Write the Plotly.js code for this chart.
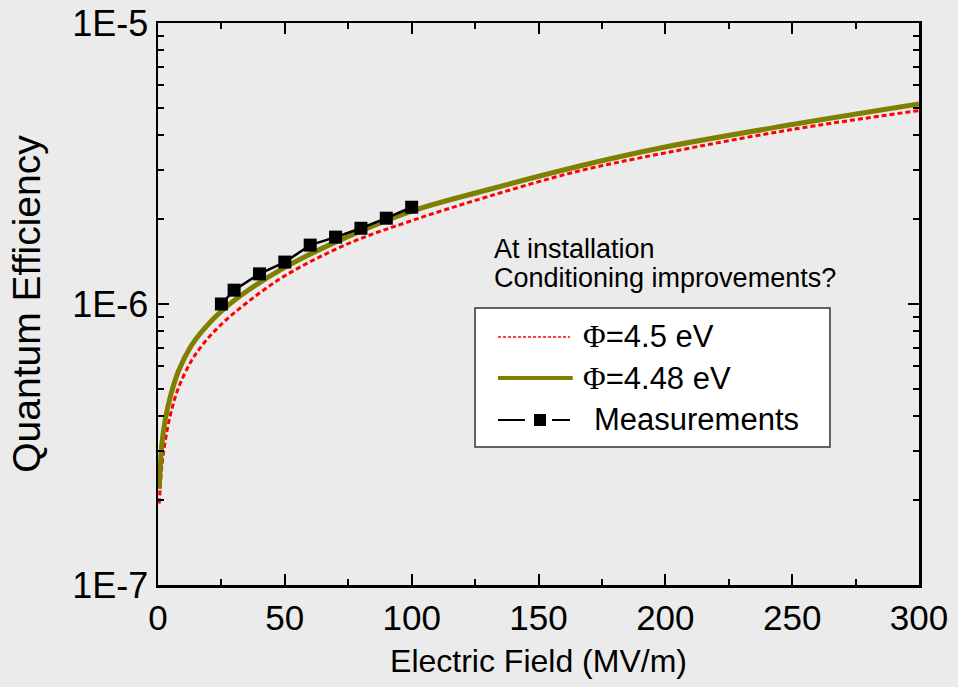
<!DOCTYPE html>
<html>
<head>
<meta charset="utf-8">
<script src="https://cdn.plot.ly/plotly-3.0.1.min.js"></script>
<style>html,body{margin:0;padding:0;background:#ebebeb;}#chart{width:958px;height:687px;}</style>
</head>
<body>
<div id="chart"></div>
<script>
// ---- data ----
const fieldCurve = [0.5, 1.5, 3, 5, 8, 13, 18, 25, 35, 50, 75, 100, 130, 165, 200, 250, 300];
const qePhi45 = [1.95e-7, 2.63e-7, 3.31e-7, 4.07e-7, 5.01e-7, 6.24e-7, 7.24e-7, 8.47e-7, 1.01e-6, 1.26e-6, 1.64e-6, 1.98e-6, 2.41e-6, 2.96e-6, 3.45e-6, 4.18e-6, 4.88e-6];
const qePhi448 = [2.2e-7, 3.16e-7, 3.94e-7, 4.73e-7, 5.75e-7, 7.08e-7, 8.13e-7, 9.44e-7, 1.11e-6, 1.35e-6, 1.74e-6, 2.14e-6, 2.55e-6, 3.08e-6, 3.62e-6, 4.35e-6, 5.15e-6];
const fieldMeas = [25, 30, 40, 50, 60, 70, 80, 90, 100];
const qeMeas = [1.0e-6, 1.12e-6, 1.28e-6, 1.41e-6, 1.62e-6, 1.73e-6, 1.86e-6, 2.02e-6, 2.21e-6];
const seriesNames = ['<span style="font-family:Liberation Serif">Φ</span>=4.5 eV', '<span style="font-family:Liberation Serif">Φ</span>=4.48 eV', 'Measurements'];
const xTickVals = [0, 50, 100, 150, 200, 250, 300];
const xMinorVals = [25, 75, 125, 175, 225, 275];
const yTickVals = [1e-7, 1e-6, 1e-5];
const yTickText = ['1E-7', '1E-6', '1E-5'];
const noteLines = ['At installation', 'Conditioning improvements?'];

const yMinor = [];
for (let d = -7; d < -5; d++) for (let k = 2; k <= 9; k++) yMinor.push(k * Math.pow(10, d));

const traces = [
  {x: fieldCurve, y: qePhi45, mode: 'lines', line: {color: '#ff0000', width: 3, dash: '5px,3px', shape: 'spline'}, name: seriesNames[0], showlegend: false},
  {x: fieldCurve, y: qePhi448, mode: 'lines', line: {color: '#808000', width: 5, shape: 'spline'}, name: seriesNames[1], showlegend: false},
  {x: fieldMeas, y: qeMeas, mode: 'lines+markers', line: {color: '#000', width: 2.5}, marker: {symbol: 'square', size: 13, color: '#000'}, name: seriesNames[2], showlegend: false}
];

// legend drawn in paper coordinates
const lgX0 = 0.4166, lgX1 = 0.883, lgY0 = 0.2456, lgY1 = 0.4929;
const rowY = [0.4413, 0.3683, 0.2936];
const sampleX0 = 0.4468, sampleX1 = 0.5414;
const shapes = [
  {type: 'rect', xref: 'paper', yref: 'paper', x0: lgX0, x1: lgX1, y0: lgY0, y1: lgY1, fillcolor: '#ffffff', line: {color: '#333', width: 1.5}, layer: 'above'},
  {type: 'line', xref: 'paper', yref: 'paper', x0: sampleX0, x1: sampleX1, y0: rowY[0], y1: rowY[0], line: {color: '#ff0000', width: 1.5, dash: '3px,2px'}, layer: 'above'},
  {type: 'line', xref: 'paper', yref: 'paper', x0: sampleX0, x1: 0.545, y0: rowY[1], y1: rowY[1], line: {color: '#808000', width: 4}, layer: 'above'},
  {type: 'line', xref: 'paper', yref: 'paper', x0: sampleX0, x1: 0.4822, y0: rowY[2], y1: rowY[2], line: {color: '#000', width: 2}, layer: 'above'},
  {type: 'line', xref: 'paper', yref: 'paper', x0: 0.5177, x1: sampleX1, y0: rowY[2], y1: rowY[2], line: {color: '#000', width: 2}, layer: 'above'},
  {type: 'rect', xref: 'paper', yref: 'paper', x0: 0.4941, x1: 0.5099, y0: rowY[2] - 0.0107, y1: rowY[2] + 0.0107, fillcolor: '#000', line: {width: 0}, layer: 'above'}
];
const lgFont = {size: 31, color: '#000', family: 'Liberation Sans, Arial, sans-serif'};
const noteFont = {size: 27, color: '#000', family: 'Liberation Sans, Arial, sans-serif'};
const annotations = [
  {xref: 'paper', yref: 'paper', x: 0.5560, y: rowY[0], text: seriesNames[0], showarrow: false, xanchor: 'left', yanchor: 'middle', font: lgFont},
  {xref: 'paper', yref: 'paper', x: 0.5560, y: rowY[1], text: seriesNames[1], showarrow: false, xanchor: 'left', yanchor: 'middle', font: lgFont},
  {xref: 'paper', yref: 'paper', x: 0.5705, y: rowY[2], text: seriesNames[2], showarrow: false, xanchor: 'left', yanchor: 'middle', font: lgFont},
  {xref: 'paper', yref: 'paper', x: 0.4395, y: 0.5979, text: noteLines[0], showarrow: false, xanchor: 'left', yanchor: 'middle', font: noteFont},
  {xref: 'paper', yref: 'paper', x: 0.4395, y: 0.5463, text: noteLines[1], showarrow: false, xanchor: 'left', yanchor: 'middle', font: noteFont}
];

const layout = {
  width: 958, height: 687,
  paper_bgcolor: '#ebebeb', plot_bgcolor: '#ebebeb',
  margin: {l: 158, r: 39, t: 23, b: 102},
  font: {family: 'Liberation Sans, Arial, sans-serif', color: '#000'},
  showlegend: false,
  xaxis: {
    range: [0, 300], tickvals: xTickVals, ticktext: xTickVals.map(String),
    ticks: 'inside', ticklen: 11, tickwidth: 2, tickcolor: '#000',
    showline: true, linecolor: '#000', linewidth: 2.5, mirror: 'ticks',
    showgrid: false, zeroline: false,
    tickfont: {size: 35, family: 'Liberation Sans, Arial, sans-serif'},
    minor: {tickvals: xMinorVals, ticks: 'inside', ticklen: 6, tickwidth: 2, tickcolor: '#000', showgrid: false},
    title: {text: 'Electric Field (MV/m)', font: {size: 32}, standoff: 14}
  },
  yaxis: {
    type: 'log', range: [-7, -5], tickvals: yTickVals, ticktext: yTickText,
    ticks: 'inside', ticklen: 11, tickwidth: 2, tickcolor: '#000',
    showline: true, linecolor: '#000', linewidth: 2.5, mirror: 'ticks',
    showgrid: false, zeroline: false,
    tickfont: {size: 36, family: 'Liberation Sans, Arial, sans-serif'},
    minor: {tickvals: yMinor, ticks: 'inside', ticklen: 6, tickwidth: 2, tickcolor: '#000', showgrid: false},
    title: {text: 'Quantum Efficiency', font: {size: 39}, standoff: 20}
  },
  shapes: shapes,
  annotations: annotations
};

Plotly.newPlot('chart', traces, layout, {staticPlot: true, displayModeBar: false});
</script>
</body>
</html>
